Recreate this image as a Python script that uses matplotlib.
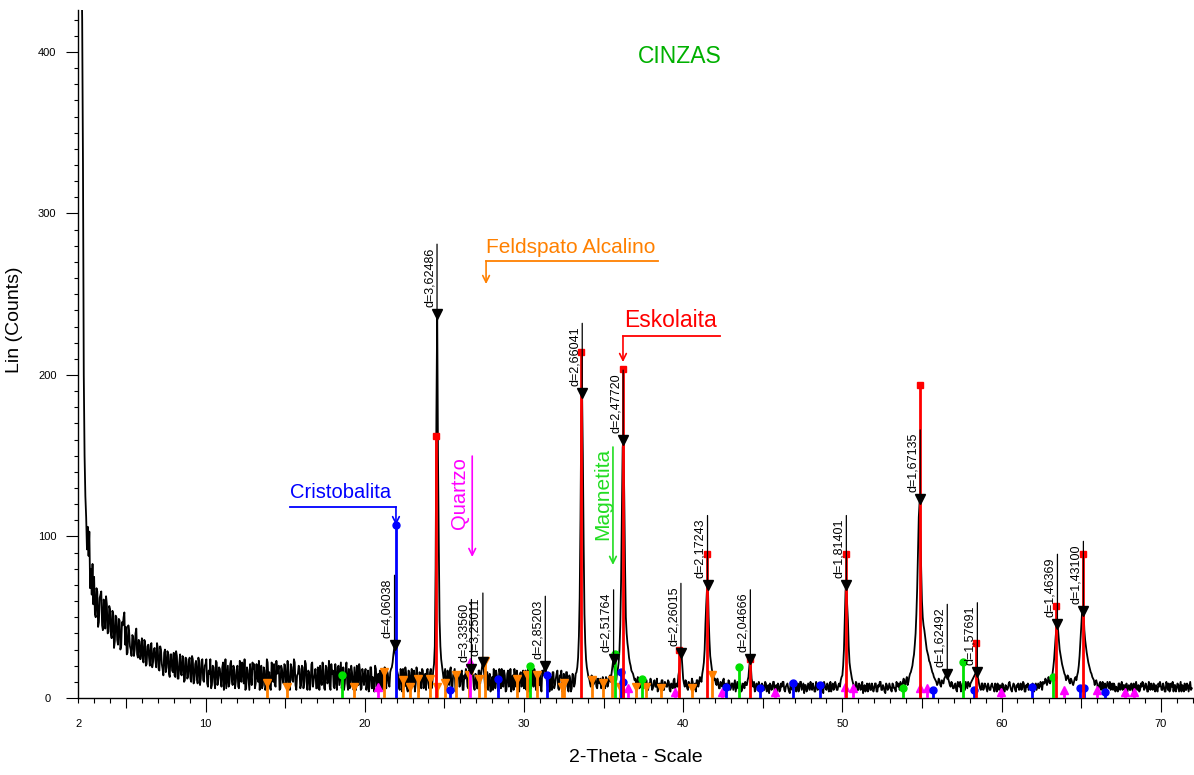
import matplotlib.pyplot as plt
import numpy as np
from matplotlib.ticker import MultipleLocator

plt.rcParams['font.family'] = ['Liberation Sans', 'DejaVu Sans']

# difractograma: contagens a cada 0.1 grau a partir de 2.00 (a)
# e a partir de 2.05 (b); uma linha por grau 2-theta
tt_step = 0.1
tt_start_a = 2.0
counts_a = [
    480, 470, 460, 330, 150, 112, 106, 103, 80, 83,  # 2
    75, 50, 66, 47, 64, 45, 61, 43, 58, 41,  # 3
    55, 37, 52, 35, 50, 33, 48, 32, 45, 53,  # 4
    44, 28, 41, 30, 39, 26, 40, 27, 36, 24,  # 5
    37, 22, 35, 21, 33, 20, 34, 22, 31, 19,  # 6
    31, 17, 30, 18, 28, 16, 29, 15, 27, 17,  # 7
    28, 13, 26, 12, 27, 14, 25, 11, 24, 13,  # 8
    25, 10, 24, 11, 23, 9, 22, 12, 24, 10,  # 9
    21, 9, 17, 24, 8, 19, 6, 22, 12, 18,  # 10
    7, 22, 12, 6, 20, 9, 23, 8, 18, 10,  # 11
    20, 6, 15, 22, 9, 5, 19, 11, 21, 8,  # 12
    18, 6, 21, 10, 5, 20, 8, 17, 7, 22,  # 13
    16, 5, 19, 21, 7, 15, 20, 6, 18, 9,  # 14
    20, 7, 16, 5, 19, 10, 22, 5, 15, 18,  # 15
    8, 19, 10, 21, 5, 16, 9, 22, 12, 18,  # 16
    6, 16, 20, 8, 17, 5, 19, 10, 7, 21,  # 17
    17, 6, 12, 19, 8, 22, 10, 5, 18, 9,  # 18
    18, 7, 16, 5, 12, 20, 8, 17, 6, 14,  # 19
    15, 5, 17, 7, 19, 13, 4, 18, 10, 6,  # 20
    15, 18, 5, 11, 17, 9, 16, 19, 27, 30,  # 21
    18, 14, 5, 16, 18, 7, 15, 4, 16, 9,  # 22
    7, 17, 9, 16, 4, 12, 18, 6, 15, 17,  # 23
    9, 16, 6, 17, 32, 175, 150, 48, 24, 16,  # 24
    15, 5, 17, 8, 19, 6, 16, 4, 13, 15,  # 25
    8, 17, 5, 12, 16, 6, 15, 18, 14, 5,  # 26
    14, 6, 17, 14, 22, 15, 6, 16, 12, 4,  # 27
    13, 18, 6, 14, 4, 15, 18, 7, 14, 5,  # 28
    17, 8, 4, 14, 18, 7, 13, 4, 16, 9,  # 29
    6, 17, 12, 4, 14, 18, 7, 15, 5, 13,  # 30
    15, 4, 14, 20, 14, 7, 4, 13, 16, 6,  # 31
    12, 17, 5, 13, 4, 15, 7, 16, 4, 12,  # 32
    6, 14, 9, 16, 25, 62, 175, 150, 52, 24,  # 33
    16, 12, 7, 12, 9, 13, 6, 10, 12, 8,  # 34
    11, 6, 12, 9, 14, 15, 23, 16, 11, 18,  # 35
    30, 72, 155, 125, 50, 34, 25, 20, 16, 13,  # 36
    12, 9, 11, 7, 10, 6, 9, 11, 5, 8,  # 37
    9, 6, 11, 7, 4, 9, 8, 11, 5, 9,  # 38
    7, 10, 4, 8, 11, 6, 9, 14, 23, 27,  # 39
    12, 7, 10, 5, 9, 6, 10, 8, 4, 11,  # 40
    9, 12, 15, 22, 46, 68, 50, 26, 18, 14,  # 41
    12, 8, 10, 6, 9, 11, 5, 9, 7, 10,  # 42
    6, 9, 8, 4, 10, 7, 9, 5, 8, 10,  # 43
    8, 13, 24, 12, 7, 4, 9, 6, 8, 5,  # 44
    8, 5, 9, 7, 3, 8, 6, 10, 7, 4,  # 45
    8, 5, 7, 10, 4, 8, 6, 3, 9, 6,  # 46
    7, 4, 9, 6, 10, 7, 3, 8, 5, 7,  # 47
    10, 5, 7, 4, 8, 6, 9, 6, 3, 8,  # 48
    5, 8, 6, 4, 9, 6, 8, 5, 9, 11,  # 49
    14, 30, 66, 58, 32, 18, 12, 8, 6, 9,  # 50
    5, 8, 7, 3, 8, 6, 4, 9, 5, 7,  # 51
    6, 9, 4, 7, 10, 5, 7, 3, 8, 6,  # 52
    7, 4, 8, 6, 10, 7, 5, 8, 10, 9,  # 53
    11, 8, 13, 16, 20, 27, 40, 68, 112, 105,  # 54
    60, 45, 38, 30, 26, 22, 18, 15, 12, 10,  # 55
    9, 11, 7, 10, 12, 14, 15, 10, 7, 9,  # 56
    6, 9, 4, 8, 10, 6, 9, 5, 8, 10,  # 57
    7, 10, 12, 14, 16, 13, 8, 5, 9, 6,  # 58
    8, 4, 7, 5, 9, 6, 9, 4, 6, 8,  # 59
    5, 8, 4, 7, 6, 10, 5, 7, 8, 4,  # 60
    7, 5, 9, 6, 9, 4, 7, 5, 8, 6,  # 61
    6, 8, 5, 9, 7, 8, 10, 9, 11, 10,  # 62
    10, 11, 15, 24, 38, 46, 36, 27, 21, 17,  # 63
    14, 12, 13, 9, 11, 8, 12, 11, 16, 26,  # 64
    45, 55, 42, 32, 25, 20, 16, 13, 11, 10,  # 65
    9, 6, 10, 8, 5, 9, 7, 8, 10, 6,  # 66
    5, 8, 7, 4, 9, 7, 5, 8, 7, 4,  # 67
    8, 5, 7, 9, 4, 7, 8, 5, 7, 9,  # 68
    6, 8, 4, 7, 9, 5, 7, 8, 4, 7,  # 69
    8, 5, 7, 4, 8, 9, 5, 7, 4, 8,  # 70
    6, 8, 7, 4, 7, 9, 5, 8, 7, 5,  # 71
]
tt_start_b = 2.05
counts_b = [
    475, 465, 420, 200, 125, 92, 88, 68, 64, 58,  # 2
    52, 68, 44, 62, 66, 42, 58, 63, 40, 57,  # 3
    40, 54, 31, 51, 36, 49, 30, 47, 50, 33,  # 4
    27, 45, 32, 26, 38, 30, 43, 25, 35, 28,  # 5
    24, 36, 20, 32, 25, 33, 19, 30, 23, 34,  # 6
    18, 32, 21, 14, 30, 19, 28, 13, 27, 16,  # 7
    14, 29, 12, 22, 15, 26, 10, 25, 12, 23,  # 8
    12, 26, 9, 21, 13, 25, 8, 23, 11, 20,  # 9
    24, 7, 15, 6, 20, 10, 23, 8, 19, 11,  # 10
    19, 5, 24, 13, 7, 21, 11, 20, 6, 17,  # 11
    7, 23, 10, 18, 24, 6, 17, 5, 14, 22,  # 12
    21, 9, 14, 23, 12, 6, 19, 5, 24, 11,  # 13
    6, 22, 10, 8, 23, 17, 5, 20, 11, 21,  # 14
    9, 23, 6, 21, 11, 24, 8, 14, 20, 6,  # 15
    20, 6, 23, 9, 17, 5, 21, 7, 14, 6,  # 16
    19, 5, 11, 22, 6, 20, 9, 23, 5, 15,  # 17
    7, 21, 5, 20, 15, 6, 19, 9, 22, 5,  # 18
    6, 20, 8, 19, 5, 13, 21, 5, 18, 8,  # 19
    18, 9, 4, 19, 6, 12, 20, 7, 15, 17,  # 20
    5, 13, 19, 6, 15, 7, 18, 22, 31, 26,  # 21
    16, 6, 18, 4, 13, 19, 6, 17, 8, 18,  # 22
    14, 4, 19, 7, 16, 6, 17, 10, 5, 18,  # 23
    6, 18, 10, 21, 80, 240, 95, 32, 20, 12,  # 24
    18, 7, 12, 17, 4, 14, 18, 6, 16, 7,  # 25
    16, 5, 14, 18, 7, 17, 14, 15, 7, 15,  # 26
    6, 17, 9, 18, 20, 8, 16, 5, 15, 8,  # 27
    5, 14, 17, 7, 18, 6, 12, 17, 4, 15,  # 28
    7, 18, 13, 5, 12, 17, 5, 15, 7, 17,  # 29
    15, 5, 18, 9, 6, 16, 18, 5, 16, 8,  # 30
    7, 17, 16, 21, 9, 15, 7, 5, 16, 8,  # 31
    15, 6, 14, 17, 7, 5, 16, 6, 14, 4,  # 32
    15, 7, 15, 19, 38, 110, 190, 95, 34, 19,  # 33
    13, 9, 14, 8, 11, 7, 12, 9, 6, 13,  # 34
    8, 13, 7, 12, 10, 19, 22, 12, 16, 22,  # 35
    45, 112, 161, 82, 40, 30, 22, 17, 15, 11,  # 36
    8, 13, 6, 10, 12, 7, 11, 5, 9, 12,  # 37
    5, 10, 7, 12, 8, 6, 11, 5, 10, 7,  # 38
    11, 5, 9, 6, 12, 8, 7, 17, 29, 19,  # 39
    9, 11, 6, 10, 7, 12, 5, 9, 11, 7,  # 40
    13, 10, 18, 30, 58, 71, 36, 22, 15, 11,  # 41
    9, 12, 6, 10, 7, 12, 8, 6, 11, 5,  # 42
    9, 5, 11, 7, 6, 10, 4, 9, 6, 8,  # 43
    11, 19, 20, 9, 10, 5, 8, 10, 4, 9,  # 44
    5, 10, 4, 8, 9, 5, 10, 4, 8, 9,  # 45
    4, 9, 10, 5, 7, 9, 4, 10, 5, 8,  # 46
    9, 6, 4, 10, 5, 9, 8, 4, 9, 5,  # 47
    6, 9, 4, 10, 5, 9, 4, 8, 10, 6,  # 48
    9, 4, 10, 7, 5, 10, 5, 8, 7, 13,  # 49
    20, 48, 72, 48, 22, 15, 10, 7, 10, 5,  # 50
    9, 5, 10, 6, 4, 9, 8, 5, 9, 4,  # 51
    9, 4, 8, 10, 5, 8, 4, 9, 5, 9,  # 52
    5, 9, 6, 4, 8, 9, 10, 6, 12, 8,  # 53
    13, 10, 15, 18, 24, 33, 52, 90, 121, 80,  # 54
    50, 42, 34, 28, 23, 20, 16, 13, 11, 8,  # 55
    12, 8, 11, 9, 13, 16, 12, 8, 10, 6,  # 56
    8, 5, 10, 7, 4, 9, 7, 10, 6, 9,  # 57
    9, 11, 13, 15, 17, 11, 6, 9, 5, 9,  # 58
    6, 9, 5, 8, 7, 4, 7, 9, 5, 7,  # 59
    9, 4, 8, 5, 9, 7, 4, 9, 5, 8,  # 60
    9, 6, 5, 10, 4, 8, 9, 6, 5, 9,  # 61
    4, 9, 7, 6, 10, 5, 9, 12, 8, 13,  # 62
    9, 13, 19, 31, 44, 42, 30, 24, 19, 15,  # 63
    11, 14, 10, 12, 9, 10, 13, 14, 20, 35,  # 64
    52, 54, 36, 28, 22, 18, 15, 12, 8, 11,  # 65
    6, 9, 5, 10, 8, 4, 10, 6, 5, 9,  # 66
    9, 4, 6, 9, 5, 10, 8, 4, 9, 7,  # 67
    5, 9, 4, 6, 10, 5, 4, 9, 10, 5,  # 68
    9, 4, 10, 5, 6, 9, 4, 5, 9, 10,  # 69
    5, 9, 4, 10, 5, 4, 9, 10, 8, 4,  # 70
    9, 4, 10, 8, 4, 5, 9, 4, 10, 6,  # 71
]
# topos de pico fora da grelha
extra_tt = [21.87, 54.89]
extra_cnt = [34, 124]

# picos identificados (d em Angstrom)
d_tt = [21.87, 24.54, 26.70, 27.42, 31.34, 33.66, 35.63, 36.23, 39.86,
        41.53, 44.22, 50.25, 54.89, 56.59, 58.48, 63.51, 65.14]
d_cnt = [33, 238, 18, 22, 20, 189, 24, 160, 28, 70, 24, 70, 123, 15, 16, 46, 54]
d_txt = ["d=4,06038", "d=3,62486", "d=3,33560", "d=3,25011", "d=2,85203",
         "d=2,66041", "d=2,51764", "d=2,47720", "d=2,26015", "d=2,17243",
         "d=2,04666", "d=1,81401", "d=1,67135", "d=1,62492", "d=1,57691",
         "d=1,46369", "d=1,43100"]

# fases (padroes)
esk_tt = [24.50, 33.60, 36.20, 39.75, 41.48, 44.20, 50.22, 54.85, 58.40, 63.45, 65.10]
esk_h = [162, 214, 204, 30, 89, 24, 89, 194, 34, 57, 89]
cri_tt = [21.98, 25.35, 28.40, 31.46, 36.10, 36.25, 42.70, 44.85, 46.90, 48.60,
          55.70, 58.30, 61.90, 64.90, 65.20, 66.50]
cri_h = [107, 5, 12, 14, 16, 10, 7, 6, 9, 8, 5, 5, 7, 6, 6, 4]
qtz_tt = [20.86, 26.64, 36.54, 39.47, 42.45, 45.79, 50.14, 50.65, 54.87, 55.33,
          59.96, 63.90, 66.00, 67.74, 68.31]
qtz_h = [7, 22, 6, 4, 4, 4, 7, 6, 6, 6, 4, 5, 5, 4, 4]
mag_tt = [18.60, 30.35, 35.70, 37.40, 43.50, 53.80, 57.57, 63.20]
mag_h = [14, 20, 27, 12, 19, 6, 22, 13]
fel_tt = [13.86, 15.12, 19.32, 21.21, 22.40, 22.84, 23.35, 24.10, 24.54, 25.04,
          25.73, 26.55, 27.17, 27.55, 29.56, 30.19, 30.82, 32.39, 32.50, 34.26,
          34.95, 35.50, 36.03, 37.04, 37.66, 38.60, 40.55, 41.80]
fel_h = [9, 7, 7, 16, 11, 7, 12, 12, 7, 9, 14, 14, 12, 23, 12, 14, 14, 7, 9, 11,
         9, 11, 7, 7, 7, 6, 6, 14]

c_esk = '#FF0000'
c_cri = '#0000FF'
c_qtz = '#FF00FF'
c_mag = '#00E000'
c_fel = '#FF8000'

fig = plt.figure(figsize=(11.94, 7.75), dpi=100)
ax = fig.add_axes([78.2 / 1194, 77 / 775, (1192.6 - 78.2) / 1194, 688 / 775])

tt_a = tt_start_a + tt_step * np.arange(len(counts_a))
tt_b = tt_start_b + tt_step * np.arange(len(counts_b))
all_tt = np.concatenate([tt_a, tt_b, extra_tt])
all_cnt = np.concatenate([counts_a, counts_b, extra_cnt])
order = np.argsort(all_tt)
ax.plot(all_tt[order], all_cnt[order], color='black', lw=1.3, zorder=2)

# barras dos padroes
for pos, hh, col, mk, ms in [(fel_tt, fel_h, c_fel, 'v', 6),
                             (qtz_tt, qtz_h, c_qtz, '^', 5.5),
                             (mag_tt, mag_h, c_mag, 'o', 5),
                             (cri_tt, cri_h, c_cri, 'o', 5),
                             (esk_tt, esk_h, c_esk, 's', 4.5)]:
    ax.vlines(pos, 0, hh, colors=col, lw=2, zorder=3)
    ax.plot(pos, hh, ls='none', marker=mk, ms=ms, color=col, zorder=3)

# etiquetas d=
for x, y, s in zip(d_tt, d_cnt, d_txt):
    ax.annotate('', xy=(x, y), xytext=(0, 50), textcoords='offset points',
                arrowprops=dict(arrowstyle='-', color='black', lw=0.9,
                                shrinkA=0, shrinkB=0), zorder=4)
    ax.annotate(s, xy=(x, y), xytext=(-1, 5), textcoords='offset points',
                rotation=90, ha='right', va='bottom', fontsize=9, zorder=4)
ax.plot(d_tt, d_cnt, ls='none', marker='v', ms=7, color='black', zorder=5)

# nomes das fases
arrow = dict(arrowstyle='->', lw=1.2, shrinkA=0, shrinkB=0, mutation_scale=12)
ax.text(15.30, 123.8, 'Cristobalita', color=c_cri, fontsize=14.5, va='baseline')
ax.plot([15.30, 21.96], [118.3, 118.3], color=c_cri, lw=1.3)
ax.annotate('', xy=(21.96, 107), xytext=(21.96, 118.3),
            arrowprops=dict(arrow, color=c_cri))

ax.text(25.98, 127, 'Quartzo', color=c_qtz, fontsize=14.5, rotation=90,
        ha='center', va='center')
ax.annotate('', xy=(26.75, 87.3), xytext=(26.75, 149.8),
            arrowprops=dict(arrow, color=c_qtz))

ax.text(34.96, 126.3, 'Magnetita', color='#22DD22', fontsize=15, rotation=90,
        ha='center', va='center')
ax.annotate('', xy=(35.59, 82.4), xytext=(35.59, 155.4),
            arrowprops=dict(arrow, color='#22DD22'))

ax.text(27.62, 275.5, 'Feldspato Alcalino', color=c_fel, fontsize=15, va='baseline')
ax.plot([27.62, 38.42], [270.6, 270.6], color=c_fel, lw=1.3)
ax.annotate('', xy=(27.62, 256.3), xytext=(27.62, 270.6),
            arrowprops=dict(arrow, color=c_fel))

ax.text(36.28, 229.7, 'Eskolaita', color=c_esk, fontsize=16.5, va='baseline')
ax.plot([36.22, 42.31], [224.1, 224.1], color=c_esk, lw=1.3)
ax.annotate('', xy=(36.22, 208), xytext=(36.22, 224.1),
            arrowprops=dict(arrow, color=c_esk))

ax.text(39.8, 397, 'CINZAS', color='#00B000', fontsize=16.5, ha='center', va='center')

# eixos
ax.set_xlim(2, 72)
ax.set_ylim(0, 426)
for side in ['top', 'right']:
    ax.spines[side].set_visible(False)
for side in ['left', 'bottom']:
    ax.spines[side].set_linewidth(1.0)

xmaj = [2, 5, 10, 15, 20, 25, 30, 35, 40, 45, 50, 55, 60, 65, 70]
ax.set_xticks(xmaj)
ax.set_xticklabels([str(v) if (v % 10 == 0 or v == 2) else '' for v in xmaj])
ax.xaxis.set_minor_locator(MultipleLocator(1))
ax.tick_params(axis='x', which='major', length=10, width=0.8, pad=5, labelsize=8)
ax.tick_params(axis='x', which='minor', length=3.6, width=0.8)
for tick, v in zip(ax.xaxis.get_major_ticks(), xmaj):
    if v == 2:
        tick.tick1line.set_markersize(3.6)
    elif v % 10 != 0:
        tick.tick1line.set_markersize(7.2)

ax.set_yticks([0, 100, 200, 300, 400])
ax.yaxis.set_minor_locator(MultipleLocator(10))
ax.tick_params(axis='y', which='major', length=8.6, width=0.8, pad=13.7, labelsize=8)
ax.tick_params(axis='y', which='minor', length=2.9, width=0.8)
for lab in ax.get_yticklabels():
    lab.set_ha('center')

fig.text(15 / 1194, 1 - 320 / 775, 'Lin (Counts)', rotation=90, fontsize=14,
         ha='center', va='center')
fig.text(636 / 1194, 1 - 758 / 775, '2-Theta - Scale', fontsize=14,
         ha='center', va='center')

fig.savefig('out.png', dpi=100)
